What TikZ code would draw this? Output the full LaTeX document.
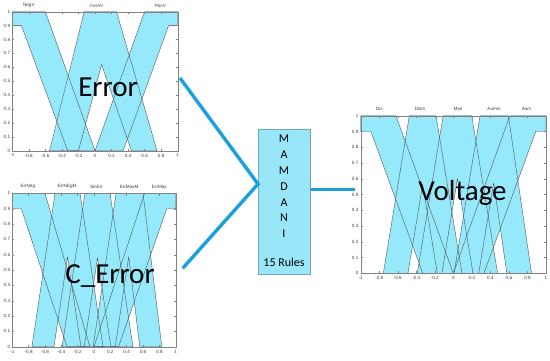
\documentclass[tikz,border=0pt]{standalone}
\usepackage{fontspec}
\setmainfont{Carlito}
\newfontfamily\axisfont{Liberation Sans}
\usetikzlibrary{positioning}
\definecolor{fouc}{RGB}{150,233,250}
\definecolor{mfline}{RGB}{70,70,70}
\definecolor{axisc}{RGB}{130,130,130}
\definecolor{tickc}{RGB}{60,60,60}
\definecolor{linkc}{RGB}{27,160,222}
\definecolor{boxc}{RGB}{152,230,247}
\definecolor{boxline}{RGB}{110,165,195}

% footprints of uncertainty: fill all, then outline all
\newcommand{\fou}[1]{%
  \foreach \p in {#1} {\fill[fou] \p -- cycle;}
  \foreach \p in {#1} {\draw[fouline] \p -- cycle;}
}
% axes box, ticks, tick labels and set names (#1 prefix, #2 x/name list)
\newcommand{\mfaxes}[2]{%
  \draw[axis] (-1,0) rectangle (1,1);
  \foreach \t in {-0.8,-0.6,-0.4,-0.2,0,0.2,0.4,0.6,0.8} {
    \draw[axis] (\t,0) -- (\t,0.014);
    \draw[axis] (\t,1) -- (\t,0.986);
  }
  \foreach \v in {0.1,0.2,0.3,0.4,0.5,0.6,0.7,0.8,0.9} {
    \draw[axis] (-1,\v) -- (-0.978,\v);
    \draw[axis] (1,\v) -- (0.978,\v);
  }
  \foreach \t [count=\i] in {-1,-0.8,-0.6,-0.4,-0.2,0,0.2,0.4,0.6,0.8,1}
    \node[tick, anchor=north] (#1x\i) at (\t,-0.015) {\t};
  \foreach \v [count=\i] in {0,0.1,0.2,0.3,0.4,0.5,0.6,0.7,0.8,0.9,1}
    \node[tick, anchor=east] (#1y\i) at (-1.015,\v) {\v};
  \foreach \p/\l [count=\i] in {#2}
    \node[mflabel] (#1n\i) at (\p,1.045) {\l};
}

\begin{document}
\begin{tikzpicture}[x=1pt, y=-1pt,
    fou/.style={fill=fouc},
    fouline/.style={draw=mfline, line width=0.35pt, line join=bevel},
    axis/.style={draw=axisc, line width=0.4pt},
    tick/.style={font=\fontsize{4.6}{5}\selectfont\axisfont, text=tickc, inner sep=0.8pt},
    mflabel/.style={font=\fontsize{4.6}{5}\selectfont\axisfont, text=tickc, inner sep=0pt},
    bigtext/.style={font=\fontsize{29}{30}\selectfont, anchor=base, inner sep=0pt},
    mamtext/.style={font=\fontsize{12}{14}\selectfont, inner sep=0pt},
    link/.style={draw=linkc, line width=3.4pt},
    mambox/.style={draw=boxline, line width=0.6pt, fill=boxc, minimum width=52.4pt,
      minimum height=145.3pt, inner sep=0pt}]
  \useasboundingbox (0,0) rectangle (550,360);

  % Error
  \begin{scope}[shift={(95,150.7)}, x=82.7pt, y=139pt]
    \fou{{(-1,1) -- (-0.6,1) -- (0,0) -- (-0.33,0) -- (-0.89,0.9) -- (-1,0.9)},
      {(-0.55,0) -- (-0.13,1) -- (0.26,1) -- (0.75,0) -- (0.44,0) -- (0.08,0.62) -- (-0.2,0)},
      {(0,0) -- (0.6,1) -- (1,1) -- (1,0.9) -- (0.89,0.9) -- (0.34,0)}}
    \mfaxes{e}{-0.8/NegV, 0.02/CeroV, 0.79/PosV}
  \end{scope}

  % C_Error
  \begin{scope}[shift={(94,346.7)}, x=81.7pt, y=153.3pt]
    \fou{{(-1,1) -- (-0.6,1) -- (-0.05,0) -- (-0.33,0) -- (-0.89,0.9) -- (-1,0.9)},
      {(-0.76,0) -- (-0.477,1) -- (-0.17,1) -- (0.11,0) -- (-0.16,0) -- (-0.324,0.586) -- (-0.49,0)},
      {(-0.39,0) -- (-0.11,1) -- (0.196,1) -- (0.476,0) -- (0.206,0) -- (0.043,0.58) -- (-0.12,0)},
      {(-0.01,0) -- (0.27,1) -- (0.6,1) -- (0.83,0) -- (0.56,0) -- (0.425,0.588) -- (0.26,0)},
      {(0,0) -- (0.62,1) -- (1,1) -- (1,0.9) -- (0.89,0.9) -- (0.3,0)}}
    \mfaxes{c}{-0.81/ErrNeg, -0.33/ErrNEgM, 0.03/SinErr, 0.43/ErrMaxM, 0.8/ErrMax}
  \end{scope}

  % Voltage
  \begin{scope}[shift={(453.35,273.3)}, x=92.65pt, y=157.6pt]
    \fou{{(-1,1) -- (-0.62,1) -- (0,0) -- (-0.33,0) -- (-0.89,0.9) -- (-1,0.9)},
      {(-0.756,0) -- (-0.475,1) -- (-0.187,1) -- (0.093,0) -- (-0.173,0) -- (-0.331,0.565) -- (-0.49,0)},
      {(-0.39,0) -- (-0.11,1) -- (0.198,1) -- (0.478,0) -- (0.212,0) -- (0.044,0.6) -- (-0.124,0)},
      {(0.008,0) -- (0.288,1) -- (0.594,1) -- (0.844,0) -- (0.578,0) -- (0.435,0.574) -- (0.274,0)},
      {(0,0) -- (0.61,1) -- (1,1) -- (1,0.9) -- (0.89,0.9) -- (0.33,0)}}
    \mfaxes{v}{-0.8/Dis, -0.36/Dism, 0.05/Man, 0.44/Aumm, 0.79/Aum}
  \end{scope}

  \node[bigtext] (err) at (108,96.5) {Error};
  \node[bigtext] (cerr) at (110,283) {C\_Error};
  \node[bigtext] (volt) at (462.5,200) {Voltage};

  \node[mambox] (mamdani) at (284.5,201.7) {};
  \foreach \c [count=\i] in {M,A,M,D,A,N,I}
    \node[mamtext] (m\i) at (284,{139+15.8*(\i-1)}) {\c};
  \node[mamtext] (rules) at (284,262.7) {15 Rules};

  \coordinate (errout) at (180,78);
  \coordinate (cerrout) at (182.7,268.3);
  \coordinate (voltin) at (355,189.3);
  \draw[link] (errout) -- ([yshift=17.7pt]mamdani.west) -- (cerrout);
  \draw[link] ([yshift=12.4pt]mamdani.east) -- (voltin);
\end{tikzpicture}
\end{document}
